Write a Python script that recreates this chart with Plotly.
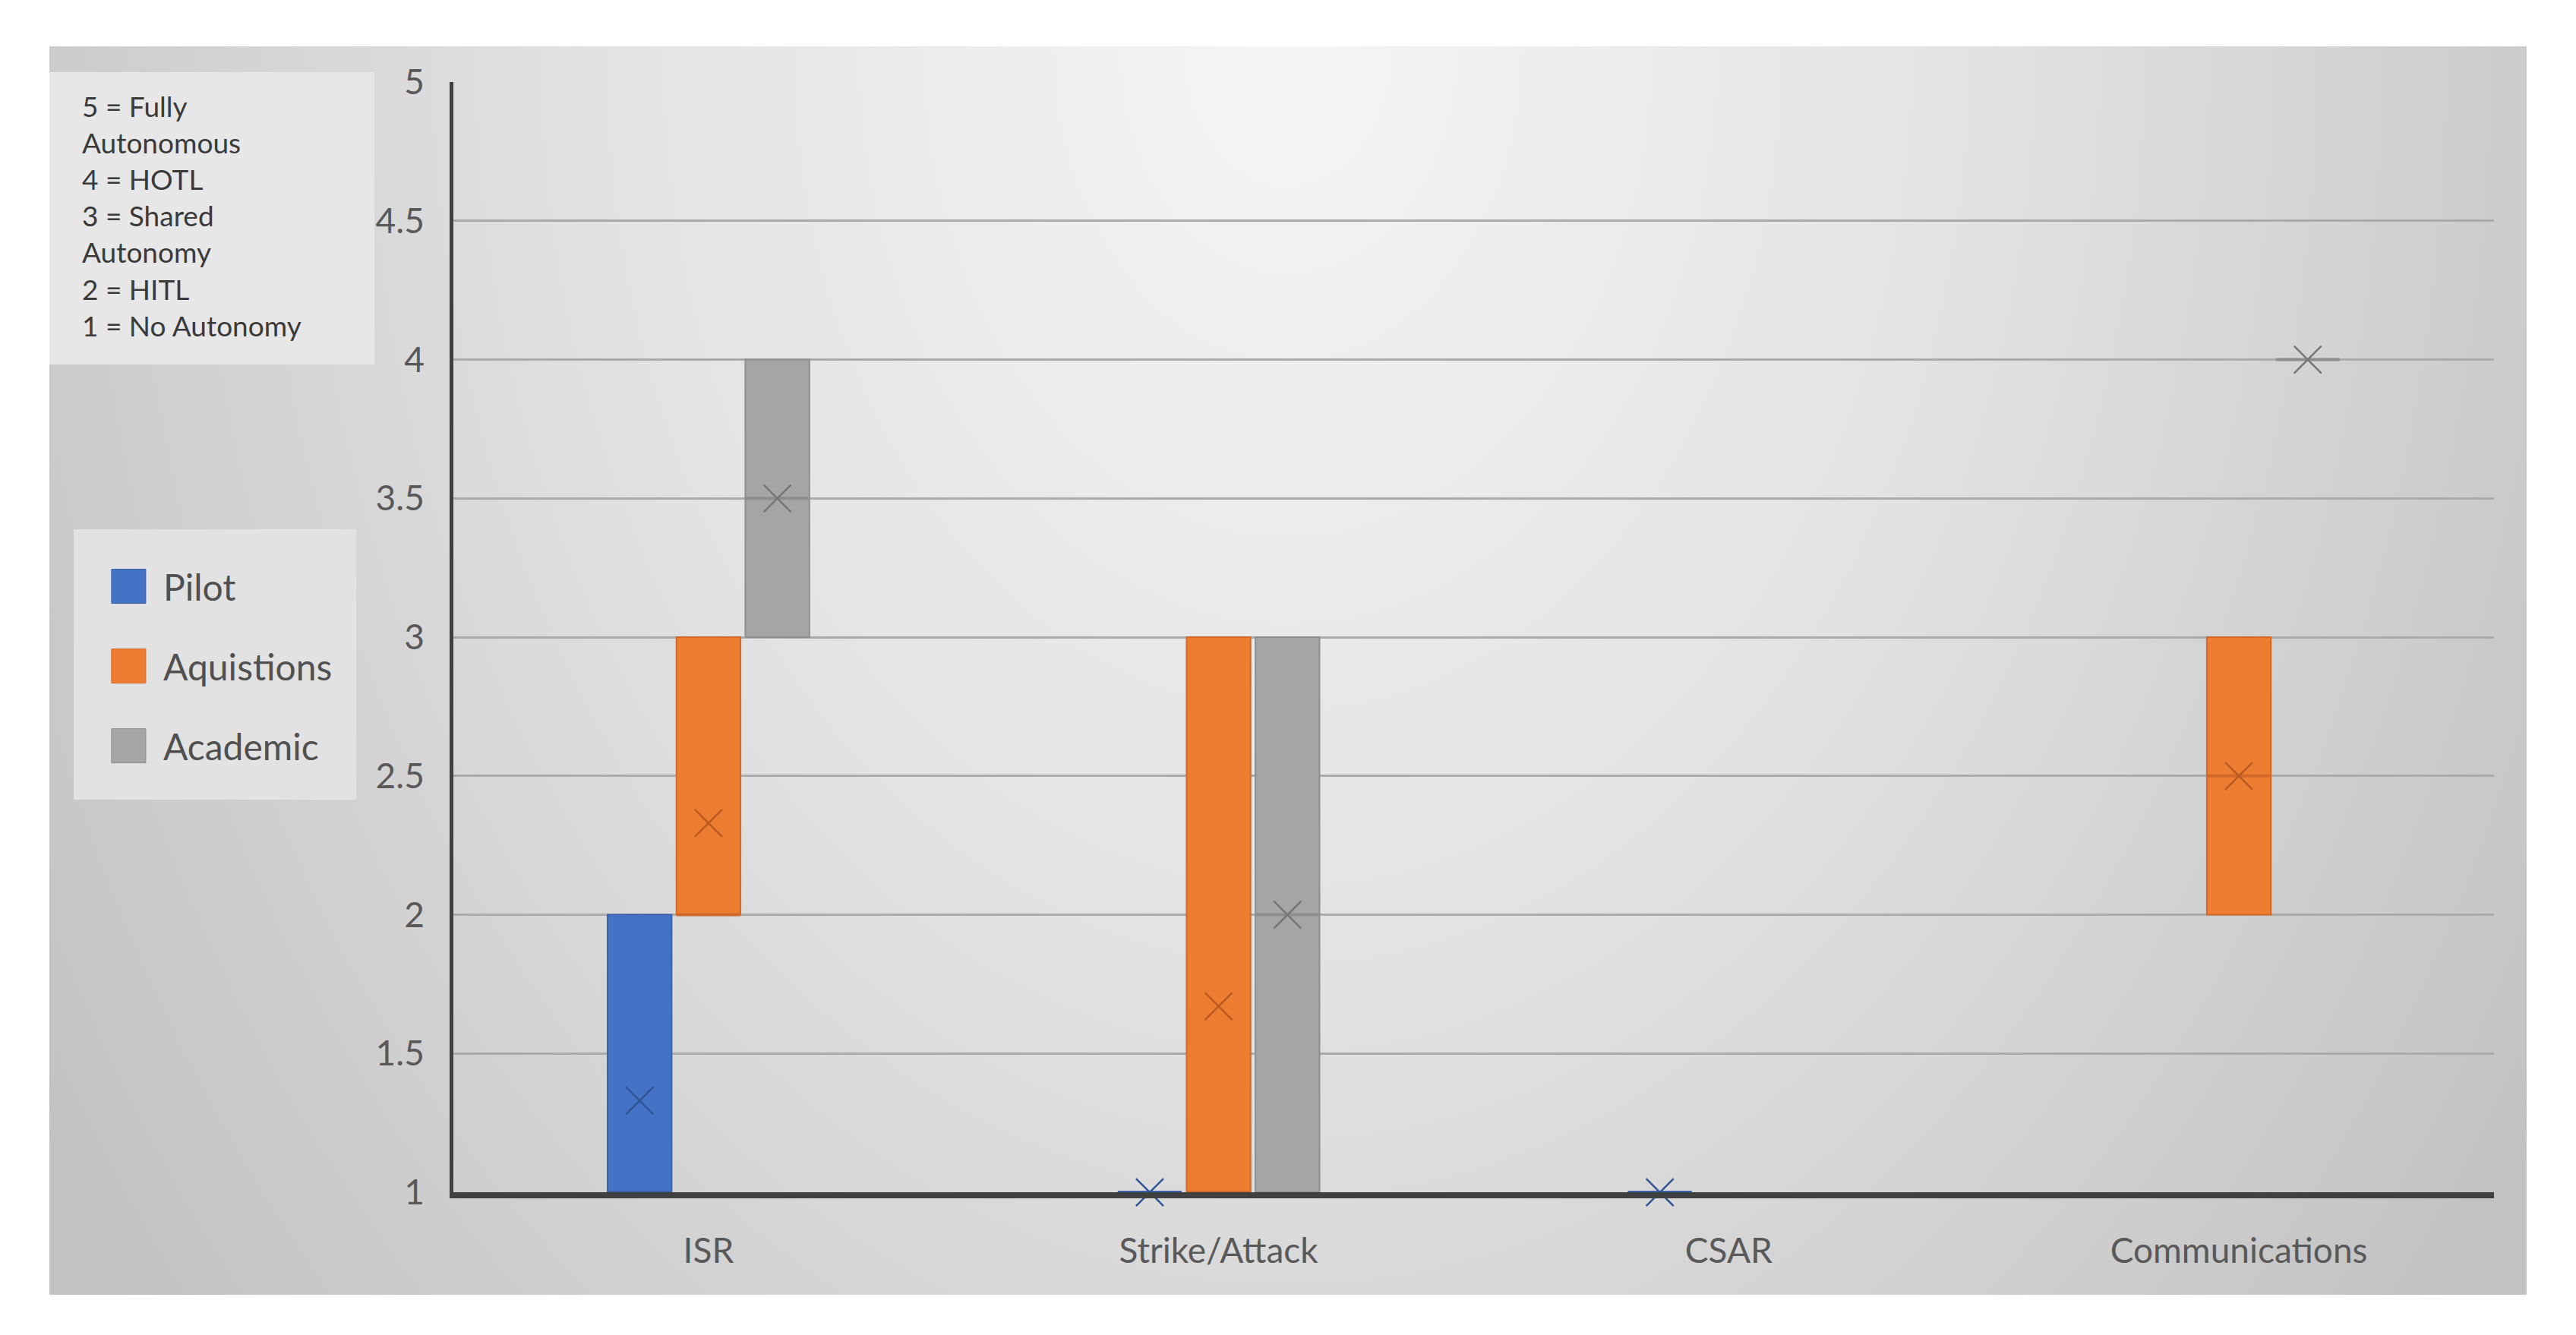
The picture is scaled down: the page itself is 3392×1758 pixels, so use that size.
import plotly.graph_objects as go

# Autonomy level ranges by mission and respondent group
categories = ["ISR", "Strike/Attack", "CSAR", "Communications"]
series_names = ["Pilot", "Aquistions", "Academic"]

pilot_min = [1, 1, 1, None]
pilot_max = [2, 1, 1, None]
pilot_mean = [1.33, 1, 1, None]
pilot_median = [1, 1, 1, None]

aquistions_min = [2, 1, None, 2]
aquistions_max = [3, 3, None, 3]
aquistions_mean = [2.33, 1.67, None, 2.5]
aquistions_median = [2, 1, None, 2.5]

academic_min = [3, 1, None, 4]
academic_max = [4, 3, None, 4]
academic_mean = [3.5, 2, None, 4]
academic_median = [3.5, 2, None, 4]

y_ticks = [1, 1.5, 2, 2.5, 3, 3.5, 4, 4.5, 5]
key_lines = ["5 = Fully", "Autonomous", "4 = HOTL", "3 = Shared",
             "Autonomy", "2 = HITL", "1 = No Autonomy"]

FONT = "Lato"
fills = ["#4472C4", "#ED7D31", "#A5A5A5"]
edges = ["#3A62AC", "#D2692A", "#8E8E8E"]
marks = ["#2F5597", "#B85A22", "#767676"]

groups = [
    (pilot_min, pilot_max, pilot_mean, pilot_median),
    (aquistions_min, aquistions_max, aquistions_mean, aquistions_median),
    (academic_min, academic_max, academic_mean, academic_median),
]

fig = go.Figure()

# gradient panel background on a hidden full-size subplot
fig.add_trace(go.Scatter(
    x=[-0.1, 1.1, 1.1, -0.1, -0.1], y=[-0.6, -0.6, 2.6, 2.6, -0.6],
    mode="lines", line=dict(width=0), fill="toself",
    fillgradient=dict(type="radial", colorscale=[[0, "#f5f5f5"], [0.45, "#e3e3e3"], [1, "#c2c2c2"]]),
    hoverinfo="skip", showlegend=False, xaxis="x", yaxis="y",
))

for name, (lo, hi, mean, med), fc, ec in zip(series_names, groups, fills, edges):
    fig.add_trace(go.Bar(
        name=name, x=categories,
        y=[None if a is None else b - a for a, b in zip(lo, hi)],
        base=lo, offsetgroup=name,
        marker=dict(color=fc, line=dict(color=ec, width=2)),
        showlegend=False, xaxis="x2", yaxis="y2",
    ))

for name, (lo, hi, mean, med), ec in zip(series_names, groups, edges):
    fig.add_trace(go.Scatter(
        name=name, x=categories, y=med, mode="markers", offsetgroup=name,
        marker=dict(symbol="line-ew", size=60, line=dict(color=ec, width=4)),
        cliponaxis=False, showlegend=False, xaxis="x2", yaxis="y2",
    ))

for name, (lo, hi, mean, med), mc in zip(series_names, groups, marks):
    fig.add_trace(go.Scatter(
        name=name, x=categories, y=mean, mode="markers", offsetgroup=name,
        marker=dict(symbol="x-thin", size=36, line=dict(color=mc, width=2.5)),
        cliponaxis=False, showlegend=False, xaxis="x2", yaxis="y2",
    ))

shapes = [
    # key box
    dict(type="rect", xref="paper", yref="paper", x0=0, x1=0.1312, y0=0.7451, y1=0.9793,
         fillcolor="#e7e7e7", line=dict(width=0), layer="above"),
    # legend box
    dict(type="rect", xref="paper", yref="paper", x0=0.0098, x1=0.1239, y0=0.3966, y1=0.6131,
         fillcolor="#e2e2e2", line=dict(width=0), layer="above"),
]
annotations = [
    dict(text="<br>".join(key_lines), xref="paper", yref="paper", x=0.0126, y=0.9673,
         xanchor="left", yanchor="top", align="left", showarrow=False,
         font=dict(family=FONT, size=37, color="#3a3a3a")),
]
for i, (name, fc, ec) in enumerate(zip(series_names, fills, edges)):
    yc = 0.5675 - i * 0.0639
    shapes.append(dict(type="rect", xref="paper", yref="paper", x0=0.0251, x1=0.0389,
                       y0=yc - 0.0137, y1=yc + 0.0137, fillcolor=fc,
                       line=dict(color=ec, width=1), layer="above"))
    annotations.append(dict(text=name, xref="paper", yref="paper", x=0.0455, y=yc,
                            xanchor="left", yanchor="middle", showarrow=False,
                            font=dict(family=FONT, size=48, color="#505050")))

fig.update_layout(
    width=3376, height=1742,
    margin=dict(l=57, r=57, t=53, b=45),
    paper_bgcolor="white",
    plot_bgcolor="rgba(0,0,0,0)",
    barmode="group", bargap=0.595, bargroupgap=0.07,
    scattermode="group", scattergap=0.595,
    showlegend=False,
    font=dict(family=FONT, color="#595959"),
    xaxis=dict(domain=[0, 1], range=[0, 1], visible=False, fixedrange=True),
    yaxis=dict(domain=[0, 1], range=[0, 1], visible=False, fixedrange=True),
    xaxis2=dict(
        domain=[0.1631, 0.9868], anchor="y2", type="category",
        categoryorder="array", categoryarray=categories,
        showline=True, linecolor="#404040", linewidth=8,
        showgrid=False, ticks="", ticklabelstandoff=30,
        tickfont=dict(family=FONT, size=46, color="#595959"),
    ),
    yaxis2=dict(
        domain=[0.0821, 0.9714], anchor="x2", range=[1, 5],
        tickvals=y_ticks, showline=True, linecolor="#404040", linewidth=5,
        showgrid=True, gridcolor="#ababab", gridwidth=3, zeroline=False,
        ticks="", ticklabelstandoff=24,
        tickfont=dict(family=FONT, size=46, color="#595959"),
    ),
    shapes=shapes,
    annotations=annotations,
)

fig.write_html("out.html")
